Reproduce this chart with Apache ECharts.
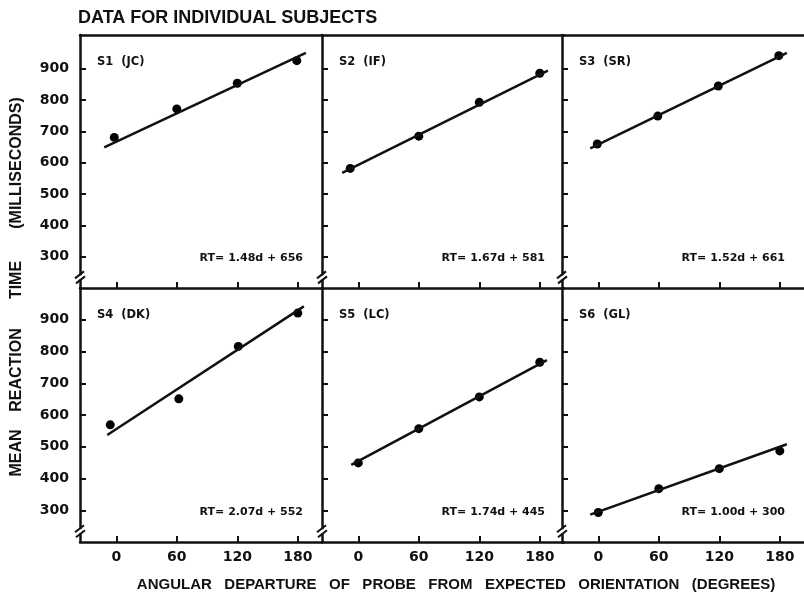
<!DOCTYPE html>
<html><head><meta charset="utf-8">
<script src="https://cdn.jsdelivr.net/npm/echarts@6/dist/echarts.min.js"></script>
<style>html,body{margin:0;padding:0;background:#fff}#c{width:804px;height:598px}</style>
</head><body><div id="c"></div><script>
// ---- data ----
const xTicks = [0, 60, 120, 180];
const yTicks = [300, 400, 500, 600, 700, 800, 900];
const subjects = ['S1  (JC)', 'S2  (IF)', 'S3  (SR)', 'S4  (DK)', 'S5  (LC)', 'S6  (GL)'];
const equations = ['RT= 1.48d + 656', 'RT= 1.67d + 581', 'RT= 1.52d + 661',
                   'RT= 2.07d + 552', 'RT= 1.74d + 445', 'RT= 1.00d + 300'];
const xName = 'ANGULAR   DEPARTURE   OF   PROBE   FROM   EXPECTED   ORIENTATION   (DEGREES)';
const yNameWords = ['MEAN', 'REACTION', 'TIME', '(MILLISECONDS)'];

const s1Deg = [-2, 60, 120, 179];   const s1RT = [681, 772, 854, 926];
const s2Deg = [-8, 60, 120, 180];   const s2RT = [582, 685, 793, 886];
const s3Deg = [-1, 59, 119, 179];   const s3RT = [660, 749, 845, 942];
const s4Deg = [-6, 62, 121, 180];   const s4RT = [569, 651, 816, 921];
const s5Deg = [0, 60, 120, 180];    const s5RT = [449, 557, 657, 766];
const s6Deg = [0, 60, 120, 180];    const s6RT = [293, 368, 431, 487];

// fitted line end points (degrees, ms)
const s1FitDeg = [-12, 188]; const s1FitRT = [649, 951];
const s2FitDeg = [-16, 188]; const s2FitRT = [568, 894];
const s3FitDeg = [-8, 187];  const s3FitRT = [646, 951];
const s4FitDeg = [-9, 186];  const s4FitRT = [537, 942];
const s5FitDeg = [-7, 187];  const s5FitRT = [443, 773];
const s6FitDeg = [-8, 187];  const s6FitRT = [286, 508];

const degs = [s1Deg, s2Deg, s3Deg, s4Deg, s5Deg, s6Deg];
const rts = [s1RT, s2RT, s3RT, s4RT, s5RT, s6RT];
const fitDegs = [s1FitDeg, s2FitDeg, s3FitDeg, s4FitDeg, s5FitDeg, s6FitDeg];
const fitRTs = [s1FitRT, s2FitRT, s3FitRT, s4FitRT, s5FitRT, s6FitRT];

// ---- layout ----
const gridLefts = [80, 322, 562];
const gridWidth = 242;
const rowTops = [35, 288];
const rowHeights = [253, 254];
const yMaxRow = [1008, 1000];
const X_MIN = -36, X_MAX = 204, Y_MIN = 200;
const INK = '#111';
const lblFont = 'DejaVu Sans';
const yNameCenters = [453, 370, 280, 163];

const chart = echarts.init(document.getElementById('c'), null, {renderer: 'canvas'});

const grids = [], xAxes = [], yAxes = [], series = [];
for (let i = 0; i < 6; i++) {
  const row = Math.floor(i / 3), col = i % 3;
  grids.push({left: gridLefts[col], top: rowTops[row], width: gridWidth, height: rowHeights[row]});
  xAxes.push({
    gridIndex: i, type: 'value', min: X_MIN, max: X_MAX, position: 'bottom',
    axisLine: {show: true, onZero: false, lineStyle: {color: INK, width: 2.5}},
    axisTick: {show: true, inside: true, length: 6, customValues: xTicks, lineStyle: {color: INK, width: 2}},
    axisLabel: {show: row === 1, customValues: xTicks, margin: 8, color: INK,
                fontFamily: lblFont, fontWeight: 'bold', fontSize: 14},
    splitLine: {show: false}
  });
  yAxes.push({
    gridIndex: i, type: 'value', min: Y_MIN, max: yMaxRow[row],
    axisLine: {show: true, onZero: false, lineStyle: {color: INK, width: 2.5}},
    axisTick: {show: true, inside: true, length: 6, customValues: yTicks, lineStyle: {color: INK, width: 2}},
    axisLabel: {show: col === 0, customValues: yTicks, margin: 11, color: INK,
                fontFamily: lblFont, fontWeight: 'bold', fontSize: 14},
    splitLine: {show: false}
  });
  series.push({
    type: 'line', xAxisIndex: i, yAxisIndex: i, showSymbol: false, silent: true,
    data: fitDegs[i].map((d, k) => [d, fitRTs[i][k]]),
    lineStyle: {color: INK, width: 2.5}, animation: false
  });
  series.push({
    type: 'scatter', xAxisIndex: i, yAxisIndex: i, symbol: 'circle', symbolSize: 9,
    data: degs[i].map((d, k) => [d, rts[i][k]]),
    itemStyle: {color: '#000', opacity: 1}, animation: false
  });
}
// top border for the upper row
for (let i = 0; i < 3; i++) {
  xAxes.push({
    gridIndex: i, type: 'value', min: X_MIN, max: X_MAX, position: 'top',
    axisLine: {show: true, onZero: false, lineStyle: {color: INK, width: 2.5}},
    axisTick: {show: false}, axisLabel: {show: false}, splitLine: {show: false}
  });
}

chart.setOption({
  backgroundColor: '#fff', animation: false,
  grid: grids, xAxis: xAxes, yAxis: yAxes, series: series
});

// ---- texts and axis-break marks ----
const els = [];
els.push({type: 'text', x: 78, y: 18, style: {text: 'DATA FOR INDIVIDUAL SUBJECTS', fill: INK,
  font: 'bold 18px "Liberation Sans", Arial, sans-serif', verticalAlign: 'middle', align: 'left'}});
yNameWords.forEach((w, k) => {
  els.push({type: 'text', x: 17, y: yNameCenters[k], rotation: Math.PI / 2, style: {
    text: w, fill: INK, font: 'bold 16px "Liberation Sans", Arial, sans-serif',
    verticalAlign: 'middle', align: 'center'}});
});
els.push({type: 'text', x: 456, y: 585, style: {
  text: xName, fill: INK, font: 'bold 15px "Liberation Sans", Arial, sans-serif',
  verticalAlign: 'middle', align: 'center'}});

for (let i = 0; i < 6; i++) {
  const row = Math.floor(i / 3), col = i % 3;
  const left = gridLefts[col], top = rowTops[row], right = left + gridWidth, bottom = top + rowHeights[row];
  els.push({type: 'text', x: left + 17, y: top + 27, style: {text: subjects[i], fill: INK,
    font: 'bold 11.5px "DejaVu Sans", sans-serif', verticalAlign: 'middle', align: 'left'}});
  els.push({type: 'text', x: right - 19, y: bottom - 30, style: {text: equations[i], fill: INK,
    font: 'bold 11px "DejaVu Sans", sans-serif', verticalAlign: 'middle', align: 'right'}});
  const p = chart.convertToPixel({gridIndex: i}, [X_MIN, 234]);
  const px = p[0], py = p[1];
  els.push({type: 'rect', shape: {x: px - 3, y: py - 2, width: 6, height: 4}, style: {fill: '#fff'}, z: 10});
  els.push({type: 'line', shape: {x1: px - 5, y1: py + 1, x2: px + 4, y2: py - 6},
    style: {stroke: INK, lineWidth: 2}, z: 11});
  els.push({type: 'line', shape: {x1: px - 4, y1: py + 6, x2: px + 5, y2: py - 1},
    style: {stroke: INK, lineWidth: 2}, z: 11});
}
chart.setOption({graphic: {elements: els}});
</script></body></html>
